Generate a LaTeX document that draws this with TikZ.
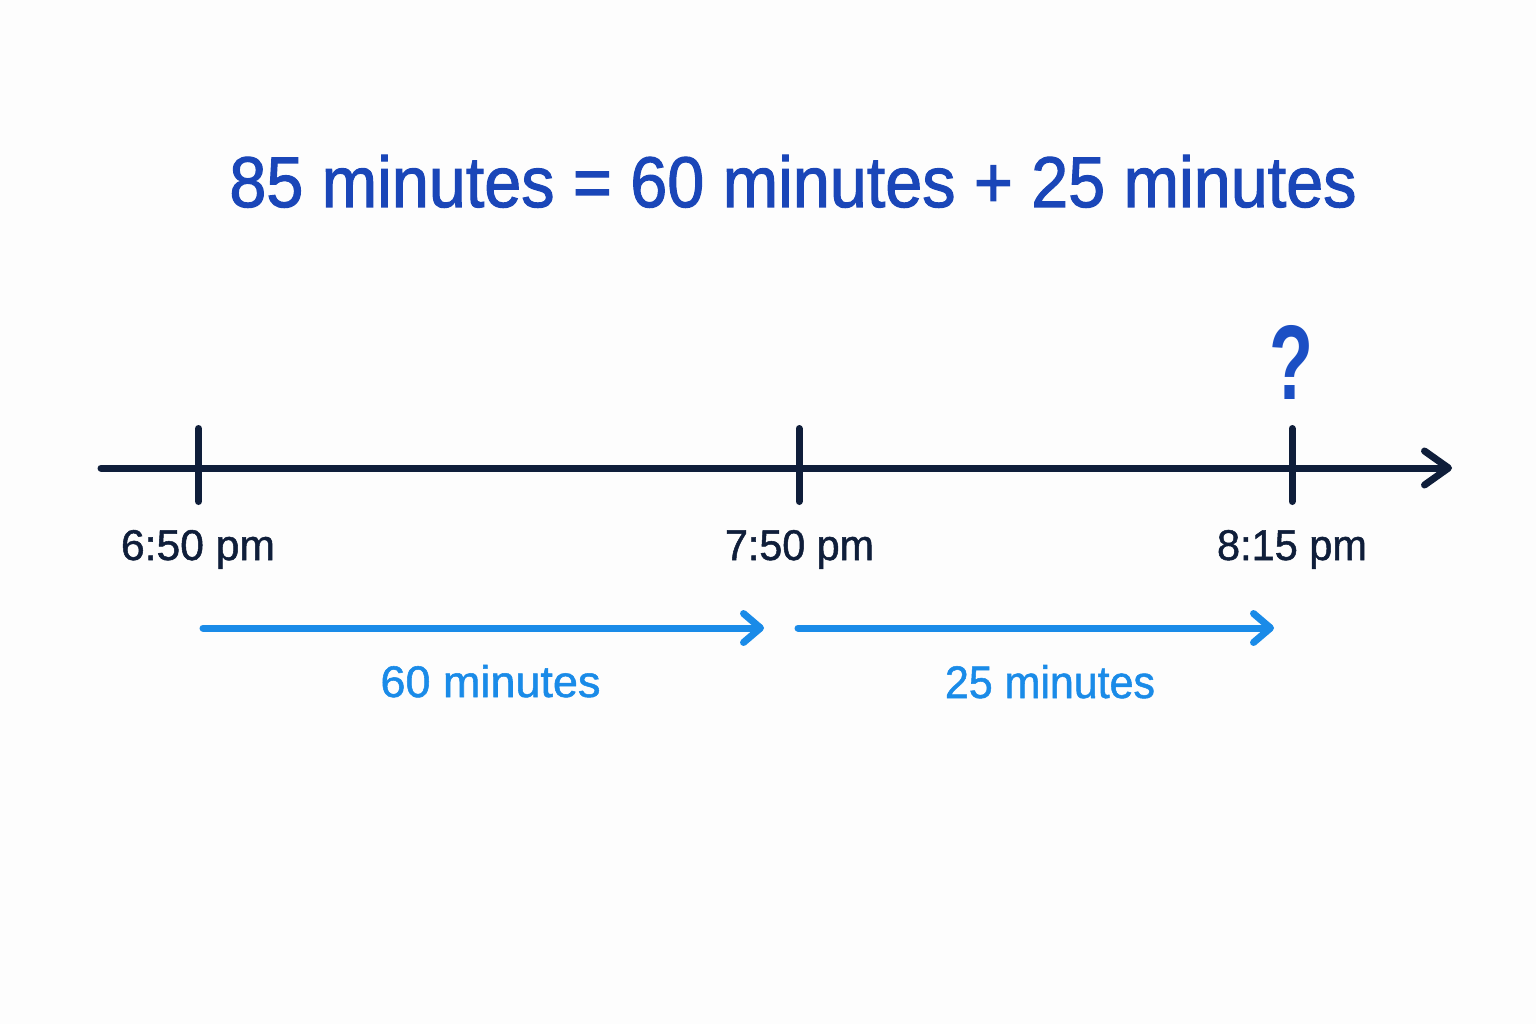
\documentclass[tikz,border=0pt]{standalone}
\usepackage{fontspec}
\setmainfont{Liberation Sans}
\newfontfamily\medfont{Liberation Sans}[FakeBold=1.6]
\newfontfamily\lblfont{Liberation Sans}[FakeBold=1.2]
\newfontfamily\qfont{Liberation Sans Bold}
\usetikzlibrary{arrows.meta}
\definecolor{navy}{HTML}{0F1E3A}
\definecolor{titleblue}{HTML}{1A46B8}
\definecolor{qblue}{HTML}{1B4FC4}
\definecolor{skyblue}{HTML}{1A8BE8}
\definecolor{bg}{HTML}{FDFDFD}
\begin{document}
\begin{tikzpicture}[x=1pt,y=-1pt,
  axisline/.style={draw=navy,line width=7pt,line cap=round,
    -{Straight Barb[length=24pt,width=34pt,line cap=round,line join=round]}},
  tickline/.style={draw=navy,line width=7pt,line cap=round},
  spanarrow/.style={draw=skyblue,line width=7pt,line cap=round,
    -{Straight Barb[length=17pt,width=29pt,line cap=round,line join=round]}},
  txt/.style={inner sep=0pt,anchor=base}]
\useasboundingbox[fill=bg] (0,0) rectangle (1536,1024);

% title
\node[txt,text=titleblue] (title) at (793,207)
  {\resizebox{1127pt}{52pt}{\medfont 85 minutes = 60 minutes + 25 minutes}};

% axis
\coordinate (axL) at (101,468);
\coordinate (axR) at (1452,468);
\draw[axisline] (axL) -- (axR);

% ticks
\coordinate (t1top) at (198.5,428.5);
\coordinate (t1bot) at (198.5,501.5);
\coordinate (t2top) at (799,428.5);
\coordinate (t2bot) at (799,501.5);
\coordinate (t3top) at (1292,428.5);
\coordinate (t3bot) at (1292,501.5);
\draw[tickline] (t1top) -- (t1bot);
\draw[tickline] (t2top) -- (t2bot);
\draw[tickline] (t3top) -- (t3bot);

% time labels
\node[txt,text=navy] (l1) at (198,560) {\resizebox{154pt}{30pt}{\lblfont 6:50 pm}};
\node[txt,text=navy] (l2) at (799.5,560) {\resizebox{149pt}{30pt}{\lblfont 7:50 pm}};
\node[txt,text=navy] (l3) at (1292,560) {\resizebox{150pt}{30pt}{\lblfont 8:15 pm}};

% question mark
\node[txt,text=qblue] (q) at (1291.5,399) {\resizebox{44pt}{74pt}{\qfont ?}};

% span arrows
\coordinate (s1a) at (203,628);
\coordinate (s1b) at (764,628);
\coordinate (s2a) at (798,628);
\coordinate (s2b) at (1274,628);
\draw[spanarrow] (s1a) -- (s1b);
\draw[spanarrow] (s2a) -- (s2b);

% span labels
\node[txt,text=skyblue] (m1) at (490.5,697) {\resizebox{220pt}{32pt}{\lblfont 60 minutes}};
\node[txt,text=skyblue] (m2) at (1050,698) {\resizebox{210pt}{33pt}{\lblfont 25 minutes}};
\end{tikzpicture}
\end{document}
